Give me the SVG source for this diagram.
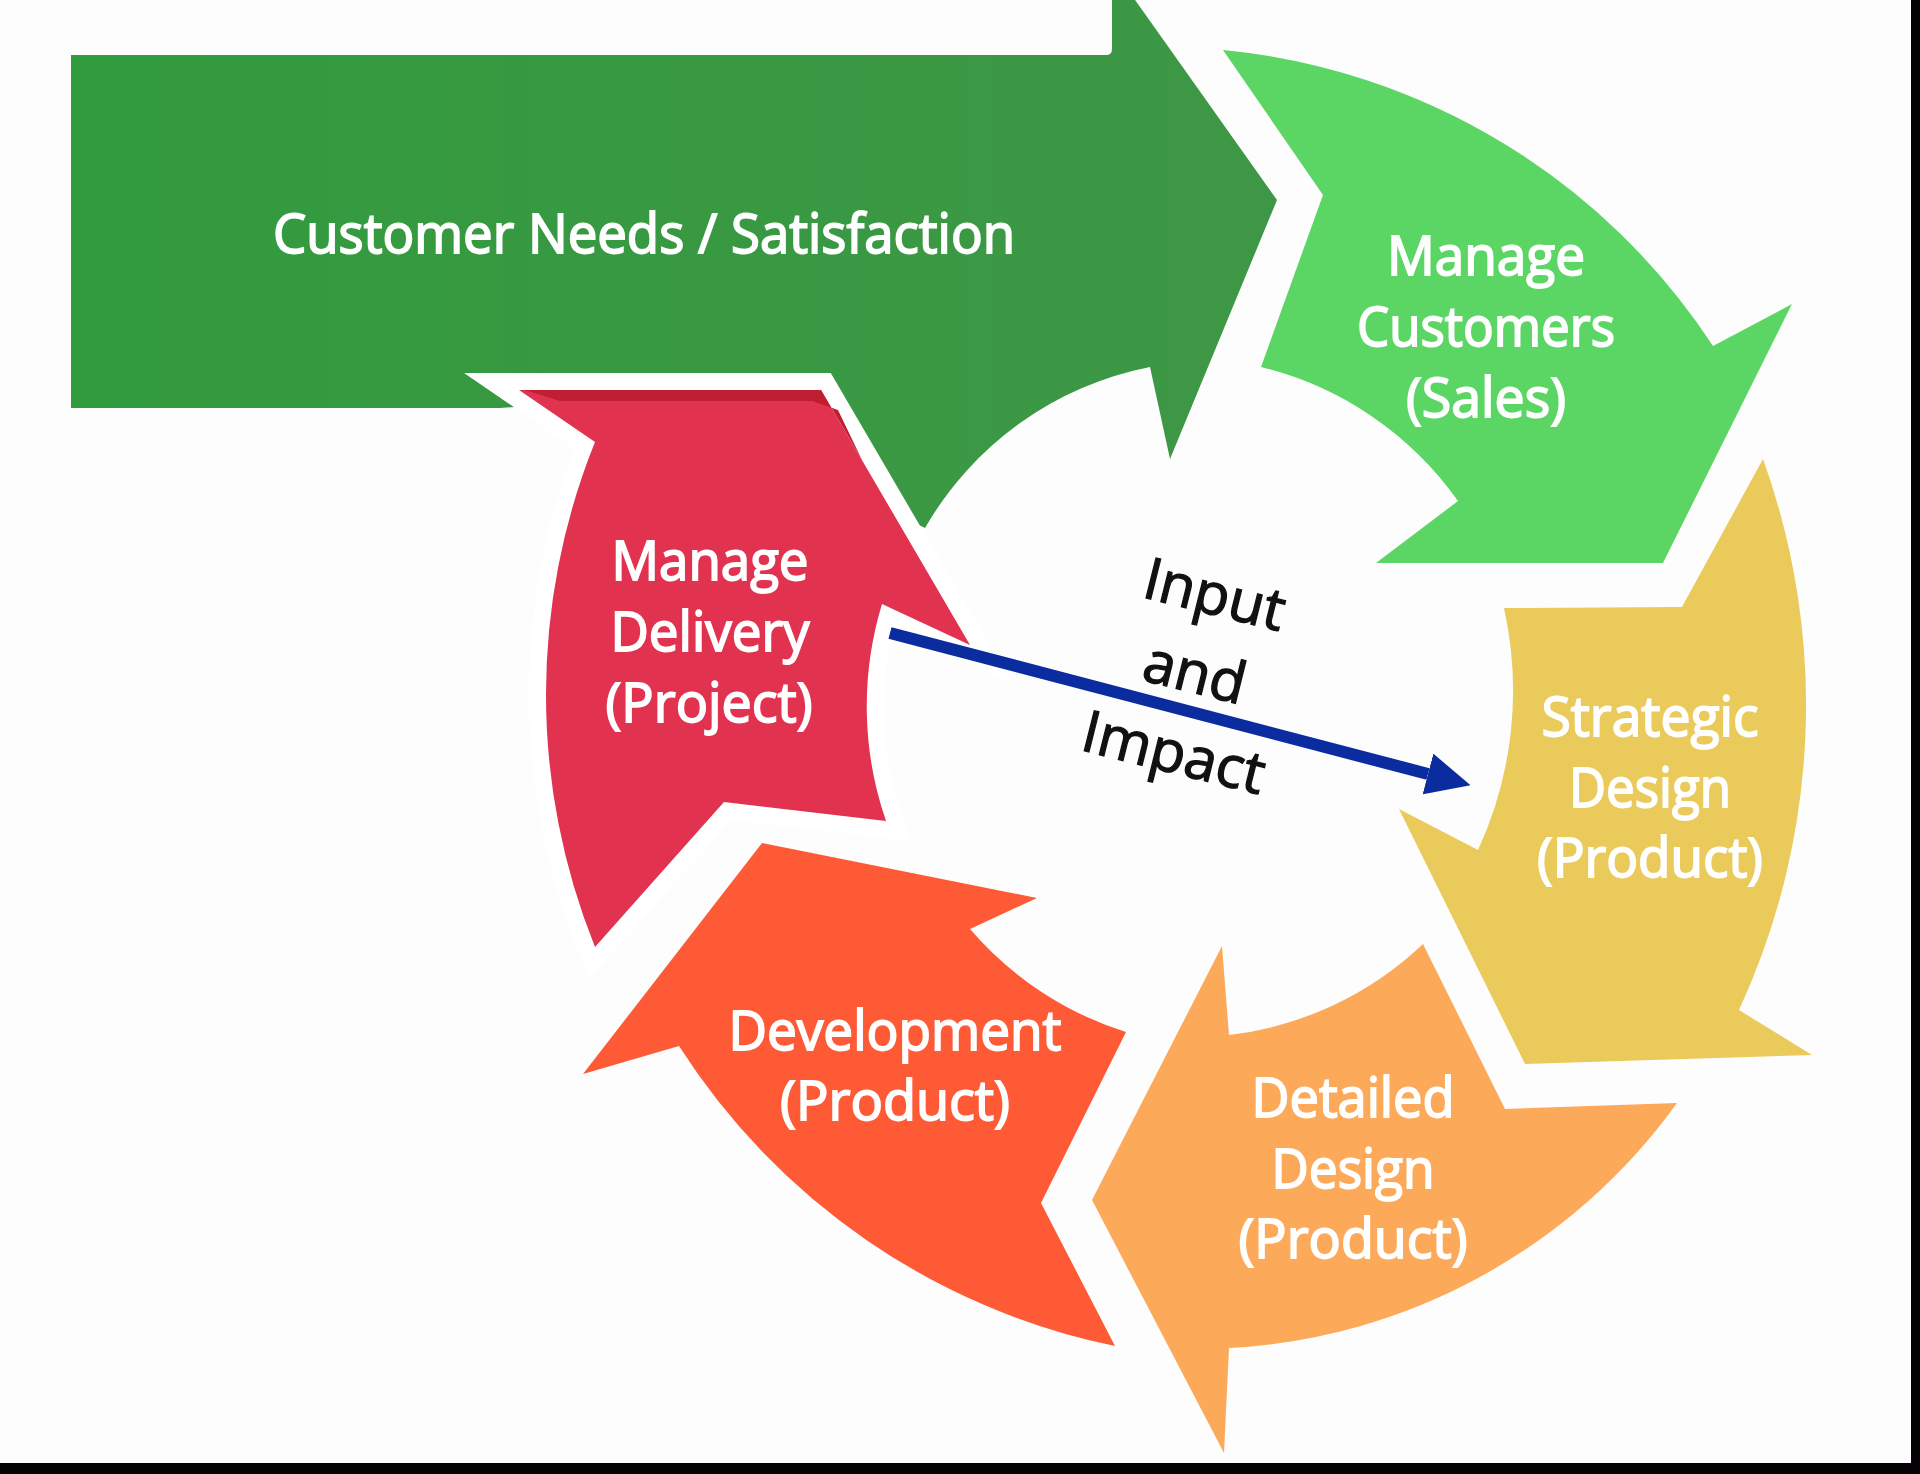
<svg xmlns="http://www.w3.org/2000/svg" width="1920" height="1474" viewBox="0 0 1920 1474">
<defs>
<linearGradient id="gBig" x1="0" y1="0" x2="1" y2="0">
<stop offset="0" stop-color="#329b3e"/>
<stop offset="1" stop-color="#3e9746"/>
</linearGradient>
<marker id="ah" markerUnits="userSpaceOnUse" markerWidth="44" markerHeight="42" viewBox="0 0 44 42" refX="0" refY="21" orient="auto">
<path d="M0,0 L44,21 L0,42 Z" fill="#0b2c9e"/>
</marker>
<style>
.lbl{font-family:"Open Sans","Liberation Sans",sans-serif;font-size:55px;fill:#ffffff;stroke:#ffffff;stroke-width:1.8px;text-anchor:middle}
.io{font-family:"Open Sans","Liberation Sans",sans-serif;font-size:58px;fill:#111111;stroke:#111111;stroke-width:1.3px;text-anchor:middle}
</style>
</defs>
<rect x="0" y="0" width="1920" height="1474" fill="#fdfdfd"/>

<g id="customer-needs">
<path d="M71,55 L1106,55 Q1112,55 1112,49 L1112,-10 L1128,-10 L1277,200 L1170,459 L1150,367 A334,334 0 0 0 925,528 L870,500 L700,420 L540,405 L500,408 L71,408 Z" fill="url(#gBig)"/>
<text class="lbl" x="644" y="253" textLength="742" lengthAdjust="spacingAndGlyphs">Customer Needs / Satisfaction</text>
</g>

<g id="manage-delivery">
<path d="M519,390 L821,390 L970,645 L882,604 A351,351 0 0 0 886,821 L724,802 L595,947 A675,675 0 0 1 595,442 Z" fill="#e1324f" stroke="#ffffff" stroke-width="34" stroke-linejoin="miter" stroke-miterlimit="3.6" paint-order="stroke"/>
<path d="M525,390 L821,390 L862,460 L838,410 L812,401 L560,401 Z" fill="#c01f33"/>
<text class="lbl" x="710" y="580" textLength="197" lengthAdjust="spacingAndGlyphs">Manage</text>
<text class="lbl" x="710" y="651" textLength="199" lengthAdjust="spacingAndGlyphs">Delivery</text>
<text class="lbl" x="709" y="722" textLength="207" lengthAdjust="spacingAndGlyphs">(Project)</text>
</g>

<g id="manage-customers">
<path d="M1223,50 L1323,195 L1261,367 A340,340 0 0 1 1458,501 L1376,563 L1663,563 L1792,304 L1713,346 A661,661 0 0 0 1223,50 Z" fill="#5bd563"/>
<text class="lbl" x="1486" y="275" textLength="198" lengthAdjust="spacingAndGlyphs">Manage</text>
<text class="lbl" x="1486" y="346" textLength="258" lengthAdjust="spacingAndGlyphs">Customers</text>
<text class="lbl" x="1486" y="417" textLength="160" lengthAdjust="spacingAndGlyphs">(Sales)</text>
</g>

<g id="strategic-design">
<path d="M1763,459 A726,726 0 0 1 1739,1010 L1812,1055 L1525,1064 L1399,809 L1478,850 A380,380 0 0 0 1504,608 L1682,607 Z" fill="#e9ca5a"/>
<text class="lbl" x="1650" y="736" textLength="217" lengthAdjust="spacingAndGlyphs">Strategic</text>
<text class="lbl" x="1650" y="807" textLength="162" lengthAdjust="spacingAndGlyphs">Design</text>
<text class="lbl" x="1650" y="877" textLength="226" lengthAdjust="spacingAndGlyphs">(Product)</text>
</g>

<g id="detailed-design">
<path d="M1092,1200 L1222,946 L1229,1035 A339,339 0 0 0 1423,944 L1505,1109 L1677,1103 A590,590 0 0 1 1229,1348 L1224,1453 Z" fill="#fca95a"/>
<text class="lbl" x="1353" y="1117" textLength="203" lengthAdjust="spacingAndGlyphs">Detailed</text>
<text class="lbl" x="1353" y="1188" textLength="163" lengthAdjust="spacingAndGlyphs">Design</text>
<text class="lbl" x="1353" y="1258" textLength="229" lengthAdjust="spacingAndGlyphs">(Product)</text>
</g>

<g id="development">
<path d="M762,843 L1037,898 L970,929 A340,340 0 0 0 1126,1032 L1041,1203 L1115,1346 A680,680 0 0 1 679,1046 L583,1074 Z" fill="#fe5a35"/>
<text class="lbl" x="895" y="1050" textLength="333" lengthAdjust="spacingAndGlyphs">Development</text>
<text class="lbl" x="895" y="1120" textLength="230" lengthAdjust="spacingAndGlyphs">(Product)</text>
</g>

<g id="connectors">
<line x1="890" y1="633" x2="1428" y2="774" stroke="#0b2c9e" stroke-width="12" marker-end="url(#ah)"/>
</g>

<g id="input-impact">
<text class="io" x="1210" y="614" transform="rotate(14 1210 614)">Input</text>
<text class="io" x="1190" y="692" transform="rotate(14 1190 692)">and</text>
<text class="io" x="1169" y="772" transform="rotate(14 1169 772)">Impact</text>
</g>

<rect x="1911" y="0" width="9" height="1474" fill="#050205"/>
<rect x="0" y="1463" width="1920" height="11" fill="#050205"/>
</svg>
